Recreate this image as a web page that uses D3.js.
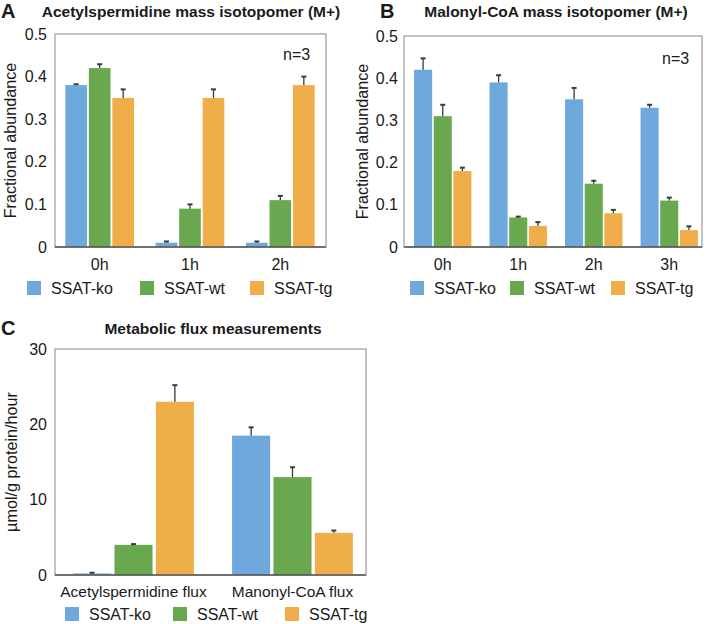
<!DOCTYPE html>
<html><head><meta charset="utf-8">
<script src="https://cdn.jsdelivr.net/npm/d3@7"></script>
<style>
html,body{margin:0;padding:0;background:#fff;}
svg text{font-family:"Liberation Sans",Arial,Helvetica,sans-serif;fill:#1a1a1a;}
</style></head>
<body><svg id="c" width="709" height="624"></svg>
<script>
// ---------- data ----------
const seriesNames = ["SSAT-ko", "SSAT-wt", "SSAT-tg"];
const seriesColors = ["#6fa8dc", "#6aa84f", "#f0ae4b"];

const aCategories = ["0h", "1h", "2h"];
const aKo = [0.38, 0.01, 0.01];
const aWt = [0.42, 0.09, 0.11];
const aTg = [0.35, 0.35, 0.38];
const aKoErr = [0.002, 0.003, 0.003];
const aWtErr = [0.009, 0.01, 0.01];
const aTgErr = [0.02, 0.02, 0.02];
const aTicks = [0, 0.1, 0.2, 0.3, 0.4, 0.5];

const bCategories = ["0h", "1h", "2h", "3h"];
const bKo = [0.42, 0.39, 0.35, 0.33];
const bWt = [0.31, 0.07, 0.15, 0.11];
const bTg = [0.18, 0.05, 0.08, 0.04];
const bKoErr = [0.027, 0.017, 0.027, 0.007];
const bWtErr = [0.027, 0.002, 0.007, 0.007];
const bTgErr = [0.008, 0.009, 0.008, 0.009];
const bTicks = [0, 0.1, 0.2, 0.3, 0.4, 0.5];

const cCategories = ["Acetylspermidine flux", "Manonyl-CoA flux"];
const cKo = [0.2, 18.5];
const cWt = [4.0, 13.0];
const cTg = [23.0, 5.6];
const cKoErr = [0.1, 1.1];
const cWtErr = [0.1, 1.3];
const cTgErr = [2.2, 0.3];
const cTicks = [0, 10, 20, 30];

// ---------- drawing ----------
const svg = d3.select("#c");
const FONT = "Liberation Sans, Arial, sans-serif";

function panel(o) {
  const g = svg.append("g");
  const series = [o.ko, o.wt, o.tg];
  const errs = [o.koErr, o.wtErr, o.tgErr];
  const y = d3.scaleLinear().domain(o.yDomain).range([o.bottom, o.top]);
  const x0 = d3.scaleBand().domain(o.categories).range(o.xRange).paddingInner(0).paddingOuter(0);
  const x1 = d3.scaleBand().domain(seriesNames)
      .range([x0.bandwidth() * 0.12, x0.bandwidth() * 0.88]).paddingInner(0.08);

  // plot frame
  g.append("rect").attr("x", o.boxX[0]).attr("y", o.top)
    .attr("width", o.boxX[1] - o.boxX[0]).attr("height", o.bottom - o.top)
    .attr("fill", "none").attr("stroke", "#9a9a9a").attr("stroke-width", 1.2);

  // y axis labels (no tick marks)
  const yAxis = d3.axisLeft(y).tickValues(o.ticks).tickSize(0).tickPadding(0)
    .tickFormat(o.fmt);
  const ya = g.append("g").attr("transform", `translate(${o.tickLabelX},0)`).call(yAxis);
  ya.select(".domain").remove();
  ya.selectAll("text").attr("font-size", 16).attr("fill", "#111").attr("font-family", FONT);

  // bars
  seriesNames.forEach((s, si) => {
    g.append("g").selectAll("rect").data(o.categories).join("rect")
      .attr("x", c => x0(c) + x1(s))
      .attr("y", (c, i) => y(series[si][i]))
      .attr("width", x1.bandwidth())
      .attr("height", (c, i) => y(0) - y(series[si][i]))
      .attr("fill", seriesColors[si]);
  });
  // error bars
  seriesNames.forEach((s, si) => {
    const eg = g.append("g").attr("stroke", "#3a3a3a").attr("stroke-width", 1.3);
    o.categories.forEach((c, i) => {
      const cx = x0(c) + x1(s) + x1.bandwidth() / 2;
      const top = y(series[si][i] + errs[si][i]);
      eg.append("line").attr("x1", cx).attr("x2", cx)
        .attr("y1", y(series[si][i])).attr("y2", top);
      eg.append("line").attr("x1", cx - 2.5).attr("x2", cx + 2.5)
        .attr("y1", top).attr("y2", top).attr("stroke-width", 2);
    });
  });

  // x axis baseline and labels
  const xAxis = d3.axisBottom(x0).tickSize(0).tickPadding(0);
  const xa = g.append("g").attr("transform", `translate(0,${o.bottom})`).call(xAxis);
  xa.select(".domain").remove();
  g.append("line").attr("x1", o.boxX[0]).attr("x2", o.boxX[1])
    .attr("y1", o.bottom).attr("y2", o.bottom).attr("stroke", "#555").attr("stroke-width", 1.4);
  xa.selectAll("text").attr("font-size", o.xFont).attr("fill", "#111").attr("font-family", FONT)
    .attr("dy", null).attr("y", o.xLabelY - o.bottom);

  // y title
  g.append("text").attr("transform", `translate(${o.yTitleX},${(o.top + o.bottom) / 2}) rotate(-90)`)
    .attr("text-anchor", "middle").attr("font-size", 16.2).attr("fill", "#111").text(o.yTitle);

  // chart title and panel letter
  g.append("text").attr("x", o.titleX).attr("y", o.titleY).attr("text-anchor", "middle")
    .attr("font-size", 15.5).attr("font-weight", "bold").attr("fill", "#111").text(o.title);
  g.append("text").attr("x", o.letterX).attr("y", o.titleY + 1).attr("font-size", 20)
    .attr("font-weight", "bold").attr("fill", "#111").text(o.letter);

  if (o.nText) {
    g.append("text").attr("x", o.nX).attr("y", o.nY).attr("font-size", 16).attr("fill", "#111").text(o.nText);
  }

  // legend
  seriesNames.forEach((s, si) => {
    g.append("rect").attr("x", o.legendX[si]).attr("y", o.legendY - 7)
      .attr("width", 14).attr("height", 14).attr("fill", seriesColors[si]);
    g.append("text").attr("x", o.legendX[si] + 24).attr("y", o.legendY + 6)
      .attr("font-size", 16).attr("fill", "#111").text(s);
  });
}

panel({
  letter: "A", letterX: 1, title: "Acetylspermidine mass isotopomer (M+)", titleX: 191, titleY: 17,
  categories: aCategories, ko: aKo, wt: aWt, tg: aTg, koErr: aKoErr, wtErr: aWtErr, tgErr: aTgErr,
  ticks: aTicks, fmt: d => d === 0 ? "0" : d3.format(".1f")(d), yDomain: [0, 0.5],
  top: 34, bottom: 247, xRange: [54.5, 325.5], boxX: [55, 326], tickLabelX: 47,
  yTitle: "Fractional abundance", yTitleX: 16, xLabelY: 270, xFont: 16,
  nText: "n=3", nX: 283, nY: 60,
  legendX: [27, 140, 250], legendY: 288
});

panel({
  letter: "B", letterX: 380, title: "Malonyl-CoA mass isotopomer (M+)", titleX: 556, titleY: 17,
  categories: bCategories, ko: bKo, wt: bWt, tg: bTg, koErr: bKoErr, wtErr: bWtErr, tgErr: bTgErr,
  ticks: bTicks, fmt: d => d === 0 ? "0" : d3.format(".1f")(d), yDomain: [0, 0.5],
  top: 36, bottom: 247, xRange: [405, 707], boxX: [404, 702], tickLabelX: 398,
  yTitle: "Fractional abundance", yTitleX: 368, xLabelY: 270, xFont: 16,
  nText: "n=3", nX: 662, nY: 64,
  legendX: [410, 510, 611], legendY: 288
});

panel({
  letter: "C", letterX: 1, title: "Metabolic flux measurements", titleX: 213, titleY: 334,
  categories: cCategories, ko: cKo, wt: cWt, tg: cTg, koErr: cKoErr, wtErr: cWtErr, tgErr: cTgErr,
  ticks: cTicks, fmt: d3.format("d"), yDomain: [0, 30],
  top: 349, bottom: 575, xRange: [54, 372], boxX: [55, 366], tickLabelX: 47,
  yTitle: "µmol/g protein/hour", yTitleX: 17, xLabelY: 597, xFont: 15.5,
  nText: null,
  legendX: [65, 173, 285], legendY: 614
});
</script></body></html>
